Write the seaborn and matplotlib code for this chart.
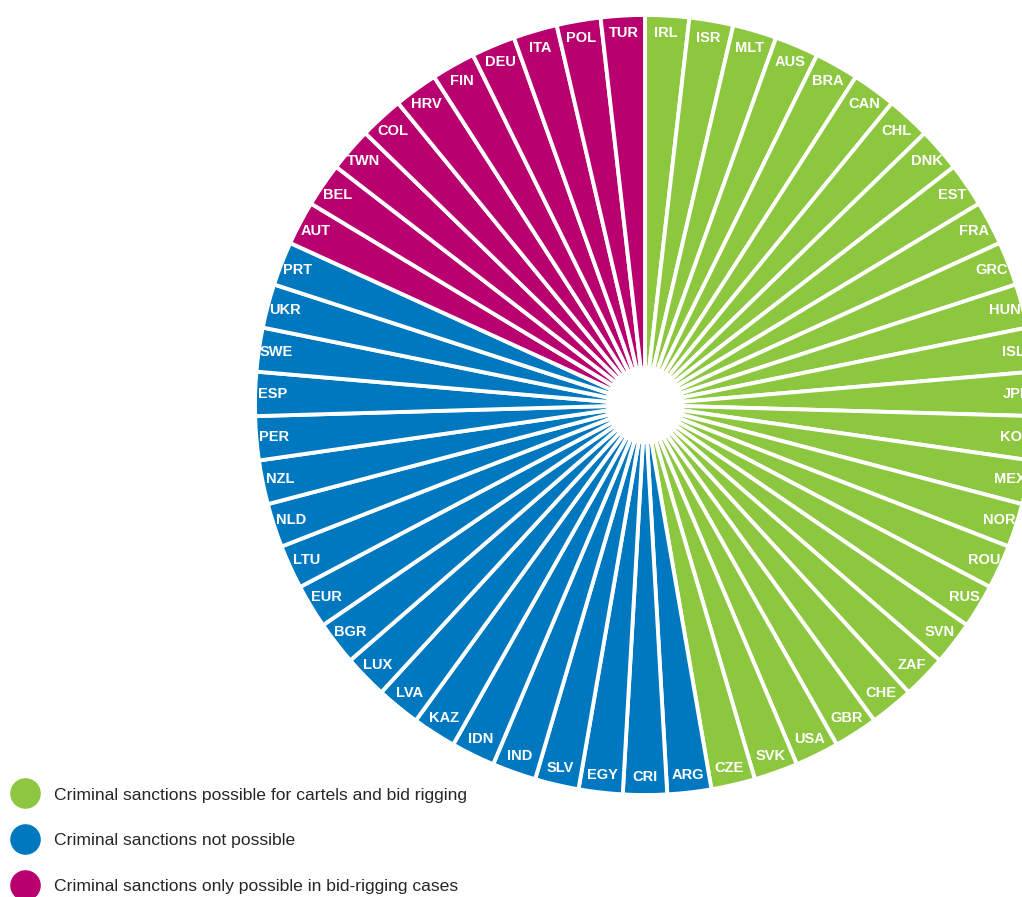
import matplotlib
matplotlib.use("Agg")
import matplotlib.pyplot as plt
import seaborn as sns
from matplotlib.lines import Line2D

sns.set_theme(style="white")
plt.rcParams['font.family'] = ['Liberation Sans', 'DejaVu Sans']

# countries clockwise from top, grouped by regime
green_countries = ['IRL', 'ISR', 'MLT', 'AUS', 'BRA', 'CAN', 'CHL', 'DNK', 'EST', 'FRA',
                   'GRC', 'HUN', 'ISL', 'JPN', 'KOR', 'MEX', 'NOR', 'ROU', 'RUS', 'SVN',
                   'ZAF', 'CHE', 'GBR', 'USA', 'SVK', 'CZE']
blue_countries = ['ARG', 'CRI', 'EGY', 'SLV', 'IND', 'IDN', 'KAZ', 'LVA', 'LUX', 'BGR',
                  'EUR', 'LTU', 'NLD', 'NZL', 'PER', 'ESP', 'SWE', 'UKR', 'PRT']
magenta_countries = ['AUT', 'BEL', 'TWN', 'COL', 'HRV', 'FIN', 'DEU', 'ITA', 'POL', 'TUR']

legend_labels = ['Criminal sanctions possible for cartels and bid rigging',
                 'Criminal sanctions not possible',
                 'Criminal sanctions only possible in bid-rigging cases']
group_colors = ['#8DC63F', '#0078BF', '#B8006E']

labels = green_countries + blue_countries + magenta_countries
sizes = [1] * len(labels)
colors = ([group_colors[0]] * len(green_countries) + [group_colors[1]] * len(blue_countries)
          + [group_colors[2]] * len(magenta_countries))

fig = plt.figure(figsize=(10.22, 8.97), dpi=100)
W, H = 1022, 897
cx, cy, R = 645, 405, 390
ax = fig.add_axes([(cx - R) / W, (H - cy - R) / H, 2 * R / W, 2 * R / H])

ax.pie(sizes, labels=labels, colors=colors, startangle=90, counterclock=False,
       labeldistance=0.955, radius=1,
       wedgeprops=dict(width=0.905, edgecolor='white', linewidth=2.8),
       textprops=dict(color='white', fontsize=10.5, fontweight='bold', ha='center', va='center'))
ax.set_xlim(-1, 1)
ax.set_ylim(-1, 1)
ax.set_aspect('equal')
ax.axis('off')

handles = [Line2D([0], [0], marker='o', linestyle='none', markersize=21,
                  markerfacecolor=c, markeredgecolor=c) for c in group_colors]
fig.legend(handles, legend_labels, loc='upper left', bbox_to_anchor=(0.001, 0.133),
           frameon=False, fontsize=12.6, handlelength=1.65, handletextpad=0.85,
           labelspacing=1.75, borderaxespad=0, borderpad=0.55)

fig.savefig('out.png', dpi=100)
